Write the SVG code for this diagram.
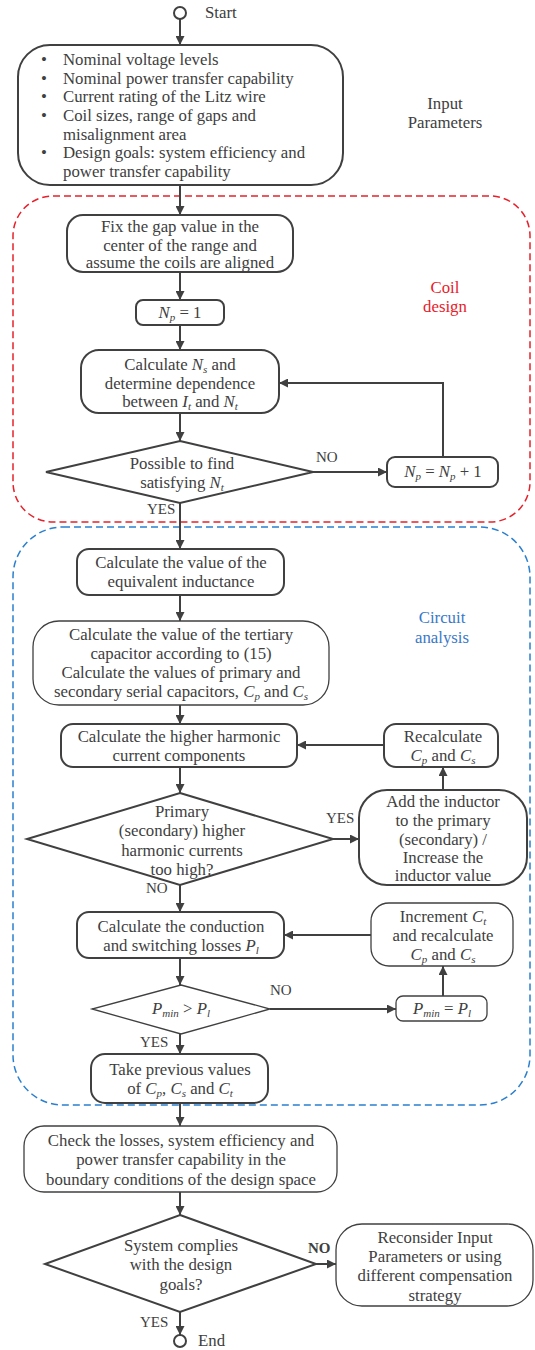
<svg xmlns="http://www.w3.org/2000/svg" width="535" height="1350" viewBox="0 0 535 1350">
<style>
.n{fill:#fff;stroke:#404040;stroke-width:2}
.nt{fill:#fff;stroke:#404040;stroke-width:1.3}
.t{font-family:"Liberation Serif",serif;font-size:16.8px;fill:#404040;text-anchor:middle}
.l{font-family:"Liberation Serif",serif;font-size:16.8px;fill:#404040}
.lb{font-family:"Liberation Serif",serif;font-size:15px;fill:#404040}
.c{stroke:#404040;stroke-width:2;fill:none;marker-end:url(#ah)}
.i{font-style:italic}
.s{font-style:italic;font-size:11px}
</style>
<defs>
<marker id="ah" viewBox="0 0 10 10" refX="10" refY="5" markerWidth="10" markerHeight="9" markerUnits="userSpaceOnUse" orient="auto">
<path d="M0,0 L10,5 L0,10 z" fill="#404040"/>
</marker>
</defs>
<rect x="13" y="196" width="517" height="326" rx="40" fill="none" stroke="#e8202a" stroke-width="1.5" stroke-dasharray="7,4"/>
<rect x="13" y="527" width="517" height="578" rx="50" fill="none" stroke="#2a7fcf" stroke-width="1.5" stroke-dasharray="7,4"/>
<text class="t" x="445" y="109">Input</text>
<text class="t" x="445" y="128">Parameters</text>
<text class="t" x="445" y="293" style="fill:#e8202a">Coil</text>
<text class="t" x="445" y="312" style="fill:#e8202a">design</text>
<text class="t" x="442" y="623" style="fill:#3a78c8">Circuit</text>
<text class="t" x="442" y="643" style="fill:#3a78c8">analysis</text>
<g id="connectors">
<path class="c" d="M180,19 V45"/>
<path class="c" d="M180,185 V215"/>
<path class="c" d="M180,272 V300"/>
<path class="c" d="M180,325 V350"/>
<path class="c" d="M180,413 V441"/>
<path class="c" d="M313,472 H387"/>
<path class="c" d="M443,457 V383 H279"/>
<path class="c" d="M180,503 V549"/>
<path class="c" d="M180,595 V621"/>
<path class="c" d="M180,705 V724"/>
<path class="c" d="M180,767 V793"/>
<path class="c" d="M333,839 H359"/>
<path class="c" d="M443,790 V767"/>
<path class="c" d="M384,745 H297"/>
<path class="c" d="M180,885 V912"/>
<path class="c" d="M180,958 V985"/>
<path class="c" d="M270,1009 H396"/>
<path class="c" d="M443,996 V966"/>
<path class="c" d="M371,935 H284"/>
<path class="c" d="M180,1034 V1054"/>
<path class="c" d="M180,1103 V1126"/>
<path class="c" d="M180,1192 V1215"/>
<path class="c" d="M316,1264 H336"/>
<path class="c" d="M180,1312 V1335"/>
<text class="lb" x="316" y="462">NO</text>
<text class="lb" x="147" y="514">YES</text>
<text class="lb" x="326" y="823">YES</text>
<text class="lb" x="146" y="893">NO</text>
<text class="lb" x="270" y="995">NO</text>
<text class="lb" x="140" y="1047">YES</text>
<text class="lb" x="308" y="1253" style="font-weight:bold">NO</text>
<text class="lb" x="140" y="1327">YES</text>
</g>
<g id="start">
<circle cx="180" cy="13" r="6" fill="#fff" stroke="#404040" stroke-width="2"/>
<text class="l" x="205" y="18">Start</text>
</g>
<g id="input">
<rect class="n" x="18" y="45" width="325" height="140" rx="32"/>
<text class="l" x="41" y="65">•</text><text class="l" x="63" y="65">Nominal voltage levels</text>
<text class="l" x="41" y="84">•</text><text class="l" x="63" y="84">Nominal power transfer capability</text>
<text class="l" x="41" y="102">•</text><text class="l" x="63" y="102">Current rating of the Litz wire</text>
<text class="l" x="41" y="121">•</text><text class="l" x="63" y="121">Coil sizes, range of gaps and</text>
<text class="l" x="63" y="140">misalignment area</text>
<text class="l" x="41" y="158">•</text><text class="l" x="63" y="158">Design goals: system efficiency and</text>
<text class="l" x="63" y="177">power transfer capability</text>
</g>
<g id="fixgap">
<rect class="n" x="67" y="215" width="226" height="57" rx="16"/>
<text class="t" x="180" y="232">Fix the gap value in the</text>
<text class="t" x="180" y="251">center of the range and</text>
<text class="t" x="180" y="268">assume the coils are aligned</text>
</g>
<g id="np1">
<rect class="n" x="136" y="300" width="88" height="25" rx="7"/>
<text class="t" x="180" y="318"><tspan class="i">N</tspan><tspan class="s" dy="3">p</tspan><tspan dy="-3"> = 1</tspan></text>
</g>
<g id="calcns">
<rect class="n" x="81" y="350" width="198" height="63" rx="18"/>
<text class="t" x="180" y="370">Calculate <tspan class="i">N</tspan><tspan class="s" dy="3">s</tspan><tspan dy="-3"> and</tspan></text>
<text class="t" x="180" y="389">determine dependence</text>
<text class="t" x="180" y="407">between <tspan class="i">I</tspan><tspan class="s" dy="3">t</tspan><tspan dy="-3"> and </tspan><tspan class="i">N</tspan><tspan class="s" dy="3">t</tspan></text>
</g>
<g id="possible">
<polygon class="n" points="180,441 313,472 180,503 46,472"/>
<text class="t" x="182" y="469">Possible to find</text>
<text class="t" x="182" y="488">satisfying <tspan class="i">N</tspan><tspan class="s" dy="3">t</tspan></text>
</g>
<g id="npinc">
<rect class="n" x="387" y="457" width="111" height="30" rx="8"/>
<text class="t" x="443" y="477"><tspan class="i">N</tspan><tspan class="s" dy="3">p</tspan><tspan dy="-3"> = </tspan><tspan class="i">N</tspan><tspan class="s" dy="3">p</tspan><tspan dy="-3"> + 1</tspan></text>
</g>
<g id="equiv">
<rect class="n" x="77" y="549" width="207" height="46" rx="12"/>
<text class="t" x="181" y="568">Calculate the value of the</text>
<text class="t" x="181" y="587">equivalent inductance</text>
</g>
<g id="tertiary">
<rect class="nt" x="33" y="621" width="296" height="84" rx="26"/>
<text class="t" x="181" y="640">Calculate the value of the tertiary</text>
<text class="t" x="181" y="659">capacitor according to (15)</text>
<text class="t" x="181" y="678">Calculate the values of primary and</text>
<text class="t" x="181" y="697">secondary serial capacitors, <tspan class="i">C</tspan><tspan class="s" dy="3">p</tspan><tspan dy="-3"> and </tspan><tspan class="i">C</tspan><tspan class="s" dy="3">s</tspan></text>
</g>
<g id="harmonic">
<rect class="n" x="61" y="724" width="236" height="43" rx="12"/>
<text class="t" x="179" y="742">Calculate the higher harmonic</text>
<text class="t" x="179" y="761">current components</text>
</g>
<g id="recalc">
<rect class="n" x="384" y="724" width="114" height="43" rx="12"/>
<text class="t" x="443" y="742">Recalculate</text>
<text class="t" x="443" y="761"><tspan class="i">C</tspan><tspan class="s" dy="3">p</tspan><tspan dy="-3"> and </tspan><tspan class="i">C</tspan><tspan class="s" dy="3">s</tspan></text>
</g>
<g id="toohigh">
<polygon class="n" points="180,793 333,839 180,885 27,839"/>
<text class="t" x="182" y="817">Primary</text>
<text class="t" x="182" y="836">(secondary) higher</text>
<text class="t" x="182" y="856">harmonic currents</text>
<text class="t" x="182" y="875">too high?</text>
</g>
<g id="addind">
<rect class="n" x="359" y="790" width="168" height="95" rx="28"/>
<text class="t" x="443" y="807">Add the inductor</text>
<text class="t" x="443" y="826">to the primary</text>
<text class="t" x="443" y="845">(secondary) /</text>
<text class="t" x="443" y="863">Increase the</text>
<text class="t" x="443" y="881">inductor value</text>
</g>
<g id="losses">
<rect class="n" x="77" y="912" width="207" height="46" rx="12"/>
<text class="t" x="181" y="932">Calculate the conduction</text>
<text class="t" x="181" y="951">and switching losses <tspan class="i">P</tspan><tspan class="s" dy="3">l</tspan></text>
</g>
<g id="increment">
<rect class="nt" x="371" y="903" width="142" height="63" rx="18"/>
<text class="t" x="443" y="922">Increment <tspan class="i">C</tspan><tspan class="s" dy="3">t</tspan></text>
<text class="t" x="443" y="941">and recalculate</text>
<text class="t" x="443" y="960"><tspan class="i">C</tspan><tspan class="s" dy="3">p</tspan><tspan dy="-3"> and </tspan><tspan class="i">C</tspan><tspan class="s" dy="3">s</tspan></text>
</g>
<g id="pmingt">
<polygon class="nt" points="181,985 270,1009 181,1034 92,1009"/>
<text class="t" x="181" y="1014"><tspan class="i">P</tspan><tspan class="s" dy="3">min</tspan><tspan dy="-3">  &gt; </tspan><tspan class="i">P</tspan><tspan class="s" dy="3">l</tspan></text>
</g>
<g id="pmineq">
<rect class="nt" x="396" y="996" width="91" height="25" rx="7"/>
<text class="t" x="442" y="1014"><tspan class="i">P</tspan><tspan class="s" dy="3">min</tspan><tspan dy="-3">  = </tspan><tspan class="i">P</tspan><tspan class="s" dy="3">l</tspan></text>
</g>
<g id="takeprev">
<rect class="n" x="91" y="1054" width="177" height="49" rx="14"/>
<text class="t" x="180" y="1075">Take previous values</text>
<text class="t" x="180" y="1094">of <tspan class="i">C</tspan><tspan class="s" dy="3">p</tspan><tspan dy="-3">, </tspan><tspan class="i">C</tspan><tspan class="s" dy="3">s</tspan><tspan dy="-3"> and </tspan><tspan class="i">C</tspan><tspan class="s" dy="3">t</tspan></text>
</g>
<g id="check">
<rect class="nt" x="24" y="1126" width="313" height="66" rx="20"/>
<text class="t" x="181" y="1146">Check the losses, system efficiency and</text>
<text class="t" x="181" y="1165">power transfer capability in the</text>
<text class="t" x="181" y="1185">boundary conditions of the design space</text>
</g>
<g id="complies">
<polygon class="n" points="180,1215 316,1264 180,1312 45,1264"/>
<text class="t" x="181" y="1251">System complies</text>
<text class="t" x="181" y="1270">with the design</text>
<text class="t" x="181" y="1290">goals?</text>
</g>
<g id="reconsider">
<rect class="nt" x="336" y="1224" width="197" height="82" rx="26"/>
<text class="t" x="435" y="1243">Reconsider Input</text>
<text class="t" x="435" y="1262">Parameters or using</text>
<text class="t" x="435" y="1281">different compensation</text>
<text class="t" x="435" y="1301">strategy</text>
</g>
<g id="end">
<circle cx="180" cy="1341" r="6" fill="#fff" stroke="#404040" stroke-width="2"/>
<text class="l" x="198" y="1346">End</text>
</g>
</svg>
